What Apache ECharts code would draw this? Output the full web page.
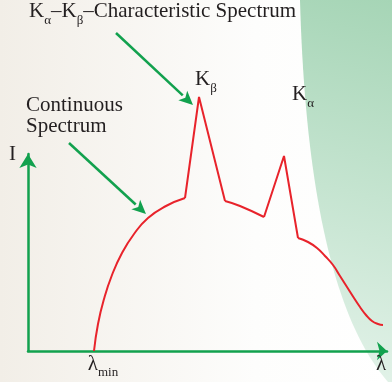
<!DOCTYPE html>
<html>
<head>
<meta charset="utf-8">
<script src="https://cdn.jsdelivr.net/npm/echarts@6/dist/echarts.min.js"></script>
<style>
  html, body { margin: 0; padding: 0; background: #fff; }
  #chart { width: 392px; height: 382px; }
</style>
</head>
<body>
<div id="chart"></div>
<script>
// spectrum pieces, wavelength (λ) vs intensity (I), arbitrary units
const riseLambda = [66, 70, 76, 84, 94, 106, 120, 138, 157]
const riseI = [0, 27, 52, 76, 98, 117, 133, 145, 153]
const kBetaLambda = [157, 171, 197]
const kBetaI = [153, 254, 150]
const midLambda = [197, 212, 236]
const midI = [150, 145, 134]
const kAlphaLambda = [236, 256, 270]
const kAlphaI = [134, 195, 113]
const tailLambda = [270, 280, 289, 297, 305, 312, 319, 326, 332, 338, 344, 350, 355]
const tailI = [113, 109, 103, 95, 86, 75, 64, 53, 44, 36, 30, 27, 26]
const lambdaMin = 66

const GREEN = '#12a14e'
const RED = '#e8232b'
const INK = '#231f20'
const SERIF = 'Liberation Serif'

function pairs(xs, ys) {
  return xs.map((x, i) => [x, ys[i]])
}

function piece(xs, ys, smooth) {
  return {
    type: 'line',
    data: pairs(xs, ys),
    smooth: smooth,
    symbol: 'none',
    clip: false,
    lineStyle: { color: RED, width: 2 },
    silent: true
  }
}

// green pointer arrow (annotation only)
function arrow(x1, y1, x2, y2) {
  const ang = Math.atan2(y2 - y1, x2 - x1)
  const len = 14
  const half = 6.5
  const bx = x2 - len * Math.cos(ang)
  const by = y2 - len * Math.sin(ang)
  const nx = -Math.sin(ang)
  const ny = Math.cos(ang)
  return [
    {
      type: 'line',
      shape: { x1: x1, y1: y1, x2: bx, y2: by },
      style: { stroke: GREEN, lineWidth: 2.5 }
    },
    {
      type: 'polygon',
      shape: { points: [[x2, y2], [bx + nx * half, by + ny * half], [bx + len * 0.25 * Math.cos(ang), by + len * 0.25 * Math.sin(ang)], [bx - nx * half, by - ny * half]] },
      style: { fill: GREEN }
    }
  ]
}

// curved green backdrop on the right
function backdrop() {
  const pts = []
  const p0 = [300, 0], p1 = [308, 290], p2 = [388, 382]
  for (let i = 0; i <= 40; i++) {
    const t = i / 40
    const a = (1 - t) * (1 - t), b = 2 * t * (1 - t), c = t * t
    pts.push([a * p0[0] + b * p1[0] + c * p2[0], a * p0[1] + b * p1[1] + c * p2[1]])
  }
  pts.push([392, 382], [392, 0])
  return {
    type: 'polygon',
    z: -10,
    shape: { points: pts },
    style: {
      fill: new echarts.graphic.LinearGradient(1, 0, 0, 1, [
        { offset: 0, color: '#a6d5b6' },
        { offset: 1, color: '#e4f3ea' }
      ])
    }
  }
}

const richBase = {
  n: { fontFamily: SERIF, fontSize: 21, lineHeight: 24, fill: INK, verticalAlign: 'top' },
  s: { fontFamily: SERIF, fontSize: 13, lineHeight: 15, fill: INK, verticalAlign: 'top', padding: [13, 0, 0, 0] }
}

function label(x, y, text) {
  return {
    type: 'text',
    x: x,
    y: y,
    z: 10,
    style: {
      text: text,
      rich: richBase,
      fill: INK,
      fontFamily: SERIF,
      fontSize: 21
    }
  }
}

const chart = echarts.init(document.getElementById('chart'))

chart.setOption({
  animation: false,
  textStyle: { fontFamily: SERIF },
  grid: { left: 28, right: 5, top: 154, bottom: 31 },
  xAxis: {
    type: 'value',
    min: 0,
    max: 359,
    splitLine: { show: false },
    axisTick: { show: false },
    axisLine: {
      symbol: ['none', 'arrow'],
      symbolSize: [14, 10],
      lineStyle: { color: GREEN, width: 2.5 }
    },
    axisLabel: {
      customValues: [lambdaMin],
      margin: 3,
      formatter: () => '{p| }{l|λ}{m|min}',
      rich: {
        p: { width: 18, fontSize: 13, fontFamily: SERIF },
        l: { fontFamily: SERIF, fontSize: 21, lineHeight: 24, color: INK, verticalAlign: 'top' },
        m: { fontFamily: SERIF, fontSize: 13, lineHeight: 15, color: INK, verticalAlign: 'top', padding: [12, 0, 0, 0] }
      }
    }
  },
  yAxis: {
    type: 'value',
    min: 0,
    max: 197,
    splitLine: { show: false },
    axisTick: { show: false },
    axisLabel: { show: false },
    axisLine: {
      symbol: ['none', 'arrow'],
      symbolSize: [13, 14],
      lineStyle: { color: GREEN, width: 2.5 }
    }
  },
  series: [
    piece(riseLambda, riseI, 0.5),
    piece(kBetaLambda, kBetaI, false),
    piece(midLambda, midI, 0.5),
    piece(kAlphaLambda, kAlphaI, false),
    piece(tailLambda, tailI, 0.5)
  ],
  graphic: [
    {
      type: 'rect',
      z: -20,
      shape: { x: 0, y: 0, width: 392, height: 382 },
      style: {
        fill: new echarts.graphic.LinearGradient(0, 0, 1, 0, [
          { offset: 0, color: '#f2eee7' },
          { offset: 0.65, color: '#fdfdfc' },
          { offset: 1, color: '#ffffff' }
        ])
      }
    },
    backdrop(),
    label(29, 1, '{n|K}{s|α}{n|–K}{s|β}{n|–Characteristic Spectrum}'),
    label(195, 69, '{n|K}{s|β}'),
    label(292, 84, '{n|K}{s|α}'),
    label(26, 95, '{n|Continuous}'),
    label(26, 116, '{n|Spectrum}'),
    label(9, 144, '{n|I}'),
    label(376, 354, '{n|λ}'),
    ...arrow(116, 33, 193, 105),
    ...arrow(69, 143, 146, 214)
  ]
})
</script>
</body>
</html>
